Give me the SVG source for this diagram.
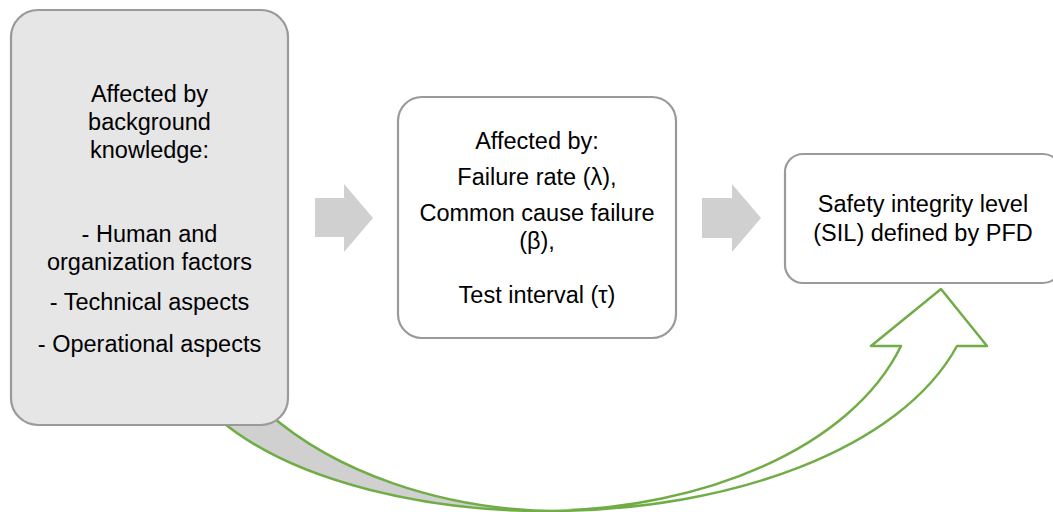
<svg xmlns="http://www.w3.org/2000/svg" width="1053" height="512" viewBox="0 0 1053 512">
<style>
.box{stroke:#9a9a9a;stroke-width:2.2}
.t{font-family:"Liberation Sans",Arial,sans-serif;font-size:23.5px;fill:#000;text-anchor:middle}
.block{fill:#d0d0d0}
.curve{stroke:#70ad47;stroke-width:2.5;stroke-linejoin:round}
</style>
<rect width="1053" height="512" fill="#ffffff"/>
<g id="connectors">
  <path class="block" d="M315,198 H344 V184 L373,218 L344,252 V237 H315 Z"/>
  <path class="block" d="M702,198 H732 V184 L761,218 L732,252 V238 H702 Z"/>
  <path class="curve" fill="#d0d0d0" d="M220,420 C295,483 430,512 552,511 C440,509 335,472 268,413 Z"/>
  <path class="curve" fill="#ffffff" d="M552,511 C730,510 900,450 957,346 L987,346 L941,289 L871,346 L901,346 C850,450 700,508 552,511 Z"/>
</g>
<g id="node-background">
  <rect class="box" x="11" y="10" width="277" height="415" rx="27" fill="#e6e6e6"/>
  <text class="t" x="149.5" y="102">Affected by</text>
  <text class="t" x="149.5" y="130">background</text>
  <text class="t" x="149.5" y="158">knowledge:</text>
  <text class="t" x="149.5" y="242">- Human and</text>
  <text class="t" x="149.5" y="270">organization factors</text>
  <text class="t" x="149.5" y="310">- Technical aspects</text>
  <text class="t" x="149.5" y="352">- Operational aspects</text>
</g>
<g id="node-parameters">
  <rect class="box" x="398" y="97" width="278" height="241" rx="24" fill="#ffffff"/>
  <text class="t" x="537" y="149">Affected by:</text>
  <text class="t" x="537" y="185">Failure rate (λ),</text>
  <text class="t" x="537" y="221">Common cause failure</text>
  <text class="t" x="537" y="249">(β),</text>
  <text class="t" x="537" y="303">Test interval (τ)</text>
</g>
<g id="node-sil">
  <rect class="box" x="785" y="154" width="276" height="129" rx="18" fill="#ffffff"/>
  <text class="t" x="923" y="212">Safety integrity level</text>
  <text class="t" x="923" y="241">(SIL) defined by PFD</text>
</g>
</svg>
